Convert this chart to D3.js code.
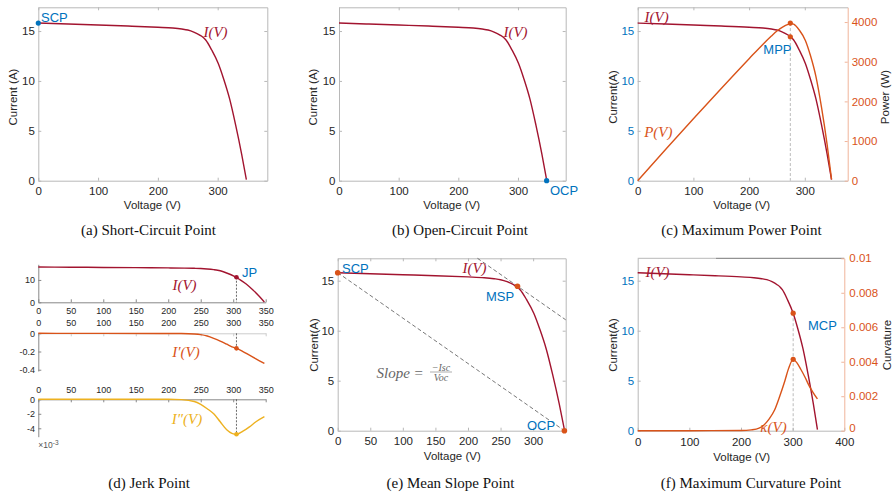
<!DOCTYPE html>
<html>
<head>
<meta charset="utf-8">
<script src="https://cdn.jsdelivr.net/npm/d3@7"></script>
<style>
  body { margin: 0; background: #fff; }
  svg { display: block; font-family: "Liberation Sans", Arial, sans-serif; }
</style>
</head>
<body>
<script>
// I-V curve
const voltage = [0, 50, 100, 150, 200, 225, 240, 250, 260, 270, 276, 280, 290, 301, 310, 320, 330, 340, 348];
const current = [15.8, 15.7, 15.6, 15.5, 15.38, 15.3, 15.2, 15.1, 14.9, 14.6, 14.35, 14.1, 13.1, 11.75, 10.2, 8.2, 5.6, 2.7, 0.1];
const power = [0, 785, 1560, 2325, 3076, 3443, 3648, 3775, 3874, 3942, 3961, 3948, 3799, 3537, 3162, 2624, 1848, 918, 35];

// derivatives (jerk panel)
const derivVoltage = [0, 100, 200, 220, 240, 250, 260, 270, 280, 290, 298, 305, 315, 325, 335, 348];
const dCurrent = [0, -0.001, -0.002, -0.003, -0.008, -0.015, -0.03, -0.055, -0.085, -0.12, -0.148, -0.165, -0.2, -0.24, -0.28, -0.33];
const d2Current = [0, 0, 0, -0.00005, -0.0003, -0.0007, -0.0013, -0.002, -0.0031, -0.0042, -0.0047, -0.00483, -0.0044, -0.0038, -0.0031, -0.0024];

// curvature
const curvVoltage = [0, 100, 200, 220, 235, 245, 255, 265, 275, 285, 292, 301, 308, 316, 324, 332, 340, 348];
const curvature = [0, 0, 0.00001, 0.00005, 0.00015, 0.00035, 0.0007, 0.0012, 0.002, 0.0029, 0.0036, 0.00414, 0.00395, 0.00355, 0.0031, 0.0026, 0.0022, 0.00184];

// key points
const scp = [0, 15.8];
const ocp = [348, 0];
const mpp = [274, 14.43, 3975];
const jp = [305, 11.2, -0.165, -0.00483];
const msp = [276, 14.45];
const mcp = [301, 11.75, 0.00414];

// ticks
const currentTicks = [0, 5, 10, 15];
const voltageTicks = [0, 100, 200, 300];
const voltageTicksE = [0, 50, 100, 150, 200, 250, 300];
const voltageTicksF = [0, 100, 200, 300, 400];
const voltageTicksD = [0, 50, 100, 150, 200, 250, 300, 350];
const powerTicks = [0, 1000, 2000, 3000, 4000];
const curvatureTicks = [0, 0.002, 0.004, 0.006, 0.008, 0.01];
const jerkTicks1 = [0, 10];
const jerkTicks2 = [0, -0.2, -0.4];
const jerkTicks3 = [0, -0.002, -0.004];

const captions = ["(a) Short-Circuit Point", "(b) Open-Circuit Point", "(c) Maximum Power Point",
  "(d) Jerk Point", "(e) Mean Slope Point", "(f) Maximum Curvature Point"];

const red = "#A2142F", orange = "#D95319", yellow = "#EDB120", blue = "#0072BD";
const lineGray = "#b8b8b8", dark = "#262626";

const svg = d3.select("body").append("svg").attr("width", 894).attr("height", 496);

function frame(left, right, bottom, top, xDomain, yDomain) {
  return {
    x: d3.scaleLinear(xDomain, [left, right]),
    y: d3.scaleLinear(yDomain, [bottom, top]),
  };
}

function drawAxis(scale, orient, at, ticks, opts = {}) {
  const {
    labels = true, fmt = (d) => String(d), color = dark, stroke = lineGray,
    size = 11.5, pad = 4, tick = 3,
  } = opts;
  const make = { bottom: d3.axisBottom, top: d3.axisTop, left: d3.axisLeft, right: d3.axisRight }[orient];
  const gen = make(scale)
    .tickValues(ticks)
    .tickSizeInner(-tick)
    .tickSizeOuter(0)
    .tickPadding(pad)
    .tickFormat(labels ? fmt : () => "");
  const horiz = orient === "bottom" || orient === "top";
  const g = svg.append("g")
    .attr("transform", horiz ? `translate(0,${at})` : `translate(${at},0)`)
    .call(gen)
    .attr("font-family", null)
    .attr("font-size", size);
  g.select(".domain").attr("stroke", stroke);
  g.selectAll(".tick line").attr("stroke", stroke);
  g.selectAll(".tick text").attr("fill", color);
  return g;
}

function curve(x, y, xs, ys, color, width = 1.4) {
  svg.append("path")
    .datum(d3.range(xs.length))
    .attr("fill", "none")
    .attr("stroke", color)
    .attr("stroke-width", width)
    .attr("d", d3.line().x((i) => x(xs[i])).y((i) => y(ys[i])).curve(d3.curveMonotoneX));
}

function dot(x, y, vx, vy, color, r = 2.6) {
  svg.append("circle").attr("cx", x(vx)).attr("cy", y(vy)).attr("r", r).attr("fill", color);
}

function dashed(x1, y1, x2, y2, color = "#999", dash = "3,2", width = 0.8) {
  svg.append("line")
    .attr("x1", x1).attr("y1", y1).attr("x2", x2).attr("y2", y2)
    .attr("stroke", color).attr("stroke-width", width).attr("stroke-dasharray", dash);
}

function label(x, y, txt, color, { size = 13, anchor = "start", math = false } = {}) {
  return svg.append("text")
    .attr("x", x).attr("y", y)
    .attr("fill", color)
    .attr("font-size", size)
    .attr("text-anchor", anchor)
    .attr("dominant-baseline", "central")
    .attr("font-family", math ? "'Liberation Serif', 'DejaVu Serif', serif" : null)
    .attr("font-style", math ? "italic" : null)
    .text(txt);
}

function yLabel(x, y, txt) {
  svg.append("text")
    .attr("transform", `translate(${x},${y}) rotate(-90)`)
    .attr("text-anchor", "middle")
    .attr("dominant-baseline", "central")
    .attr("font-size", 11.5)
    .attr("fill", dark)
    .text(txt);
}

function caption(x, y, txt) {
  svg.append("text")
    .attr("x", x).attr("y", y)
    .attr("text-anchor", "middle")
    .attr("dominant-baseline", "central")
    .attr("font-family", "'Liberation Serif', serif")
    .attr("font-size", 15)
    .attr("fill", "#111")
    .text(txt);
}

// (a) short-circuit point
const pa = frame(38.3, 267.3, 180.7, 7.3, [0, 383], [0, 17.38]);
drawAxis(pa.x, "top", 7.3, voltageTicks, { labels: false });
drawAxis(pa.y, "right", 267.3, currentTicks, { labels: false });
drawAxis(pa.x, "bottom", 180.7, voltageTicks, { pad: 6 });
drawAxis(pa.y, "left", 38.3, currentTicks, { pad: 3.5 });
curve(pa.x, pa.y, voltage, current, red);
dot(pa.x, pa.y, scp[0], scp[1], blue);
label(41, 17, "SCP", blue);
label(215.5, 32.3, "I(V)", red, { size: 15, anchor: "middle", math: true });
yLabel(13.3, 97, "Current (A)");
label(152.3, 205, "Voltage (V)", dark, { size: 11.5, anchor: "middle" });

// (b) open-circuit point
const pb = frame(339, 565.7, 180.7, 7.3, [0, 380], [0, 17.38]);
drawAxis(pb.x, "top", 7.3, voltageTicks, { labels: false });
drawAxis(pb.y, "right", 565.7, currentTicks, { labels: false });
drawAxis(pb.x, "bottom", 180.7, voltageTicks, { pad: 6 });
drawAxis(pb.y, "left", 339, currentTicks, { pad: 3.5 });
curve(pb.x, pb.y, voltage, current, red);
dot(pb.x, pb.y, ocp[0], ocp[1], blue);
label(550, 190.7, "OCP", blue);
label(515.5, 32.3, "I(V)", red, { size: 15, anchor: "middle", math: true });
yLabel(313.3, 97, "Current (A)");
label(451.7, 205, "Voltage (V)", dark, { size: 11.5, anchor: "middle" });

// (c) maximum power point
const pc = frame(637.7, 847.7, 180.7, 7.3, [0, 377], [0, 17.38]);
const pcP = d3.scaleLinear([0, 4372], [180.7, 7.3]);
drawAxis(pc.x, "top", 7.3, voltageTicks, { labels: false });
drawAxis(pc.x, "bottom", 180.7, voltageTicks, { pad: 6 });
drawAxis(pc.y, "left", 637.7, currentTicks, { pad: 3.5, color: blue });
drawAxis(pcP, "right", 847.7, powerTicks, { pad: 4, color: orange, stroke: "#f0b49a" });
dashed(pc.x(mpp[0]), pcP(mpp[2]), pc.x(mpp[0]), 180.7, "#aaa");
curve(pc.x, pc.y, voltage, current, red);
curve(pc.x, pcP, voltage, power, orange);
dot(pc.x, pc.y, mpp[0], mpp[1], orange);
dot(pc.x, pcP, mpp[0], mpp[2], orange);
label(763.3, 49.3, "MPP", blue);
label(656.7, 16.7, "I(V)", red, { size: 15, anchor: "middle", math: true });
label(658.3, 131.7, "P(V)", orange, { size: 15, anchor: "middle", math: true });
yLabel(613.3, 97, "Current(A)");
yLabel(885, 97, "Power (W)");
label(741.7, 205, "Voltage (V)", dark, { size: 11.5, anchor: "middle" });

// (d) jerk point: three stacked axes
const dI = frame(38.3, 265.7, 302.3, 264.3, [0, 350], [0, 17]);
const dD1 = frame(38.3, 265.7, 371, 333.3, [0, 350], [-0.414, 0]);
const dD2 = frame(38.3, 265.7, 436.7, 399.3, [0, 350], [-0.00516, 0]);
drawAxis(dI.x, "bottom", 302.3, voltageTicksD, { size: 9, pad: 5, stroke: "#888" });
drawAxis(dI.y, "left", 38.3, jerkTicks1, { size: 9, pad: 3.3, stroke: "#888" });
drawAxis(dD1.x, "top", 333.3, voltageTicksD, { size: 9, pad: 7.4, stroke: "#ccc" });
drawAxis(dD1.y, "left", 38.3, jerkTicks2, { size: 9, pad: 3.3, stroke: "#888" });
drawAxis(dD2.x, "top", 399.3, voltageTicksD, { size: 9, pad: 6.8, stroke: "#888" });
drawAxis(dD2.y, "left", 38.3, jerkTicks3, { size: 9, pad: 3.3, stroke: "#888",
  fmt: (d) => String(Math.round(d * 1000)) });
svg.append("text")
  .attr("x", 38.3).attr("y", 448)
  .attr("font-size", 8.5).attr("fill", "#555")
  .text("\u00d710")
  .append("tspan").attr("dy", -3).attr("font-size", 6.5).text("-3");
dashed(dI.x(jp[0]), dI.y(jp[1]), dI.x(jp[0]), 302.3, "#444", "2,1.5");
dashed(dD1.x(jp[0]), 333.3, dD1.x(jp[0]), dD1.y(jp[2]), "#444", "2,1.5");
dashed(dD2.x(jp[0]), 399.3, dD2.x(jp[0]), dD2.y(jp[3]), "#444", "2,1.5");
curve(dI.x, dI.y, voltage, current, red);
curve(dD1.x, dD1.y, derivVoltage, dCurrent, orange);
curve(dD2.x, dD2.y, derivVoltage, d2Current, yellow);
dot(dI.x, dI.y, jp[0], jp[1], red, 2.3);
dot(dD1.x, dD1.y, jp[0], jp[2], orange, 2.3);
dot(dD2.x, dD2.y, jp[0], jp[3], yellow, 2.3);
label(242, 272, "JP", blue);
label(184.5, 285, "I(V)", red, { size: 15, anchor: "middle", math: true });
label(186, 352, "I\u2032(V)", orange, { size: 15, anchor: "middle", math: true });
label(187, 419, "I\u2033(V)", yellow, { size: 15, anchor: "middle", math: true });

// (e) mean slope point
const pe = frame(337.7, 565.7, 430.7, 258.3, [0, 350], [0, 17.24]);
drawAxis(pe.x, "top", 258.3, voltageTicksE, { labels: false });
drawAxis(pe.y, "right", 565.7, currentTicks, { labels: false });
drawAxis(pe.x, "bottom", 430.7, voltageTicksE, { pad: 6 });
drawAxis(pe.y, "left", 337.7, currentTicks, { pad: 3.5 });
const meanSlope = -scp[1] / ocp[0];
dashed(pe.x(scp[0]), pe.y(scp[1]), pe.x(ocp[0]), pe.y(ocp[1]), "#555", "4,2.5");
const tanStart = msp[0] + (17.24 - msp[1]) / meanSlope;
dashed(pe.x(tanStart), pe.y(17.24), pe.x(350), pe.y(msp[1] + meanSlope * (350 - msp[0])), "#555", "4,2.5");
curve(pe.x, pe.y, voltage, current, red);
dot(pe.x, pe.y, scp[0], scp[1], orange, 2.8);
dot(pe.x, pe.y, msp[0], msp[1], orange, 2.8);
dot(pe.x, pe.y, ocp[0], ocp[1], orange, 2.8);
label(342, 268, "SCP", blue);
label(486, 296.7, "MSP", blue);
label(527, 425, "OCP", blue);
label(474.5, 268, "I(V)", red, { size: 15, anchor: "middle", math: true });
label(376.5, 373, "Slope =", "#666", { size: 15, math: true });
label(441, 367, "\u2212Isc", "#666", { size: 10, anchor: "middle", math: true });
svg.append("line").attr("x1", 430).attr("x2", 452).attr("y1", 372).attr("y2", 372)
  .attr("stroke", "#777").attr("stroke-width", 0.6);
label(441, 377.8, "Voc", "#666", { size: 10, anchor: "middle", math: true });
yLabel(314.3, 345, "Current(A)");
label(452.3, 455.7, "Voltage (V)", dark, { size: 11.5, anchor: "middle" });

// (f) maximum curvature point
const pf = frame(637.7, 844.3, 430.7, 258.3, [0, 400], [0, 17.24]);
const pfK = d3.scaleLinear([0, 0.01], [430.7, 258.3]);
svg.append("line").attr("x1", 637.7).attr("x2", 716).attr("y1", 258.3).attr("y2", 258.3).attr("stroke", lineGray);
svg.append("line").attr("x1", 716).attr("x2", 844.3).attr("y1", 258.3).attr("y2", 258.3).attr("stroke", "#777");
drawAxis(pf.x, "bottom", 430.7, voltageTicksF, { pad: 7 });
drawAxis(pf.y, "left", 637.7, currentTicks, { pad: 3.5, color: blue });
drawAxis(pfK, "right", 844.3, curvatureTicks, { pad: 5, color: orange, stroke: "#f0b49a" })
  .selectAll(".tick text").attr("dy", (d) => (d === 0 ? "0.1em" : "0.32em"));
dashed(pf.x(mcp[0]), pf.y(mcp[1]), pf.x(mcp[0]), 430.7, "#aaa");
curve(pf.x, pf.y, voltage, current, red);
curve(pf.x, pfK, curvVoltage, curvature, orange);
dot(pf.x, pf.y, mcp[0], mcp[1], orange);
dot(pf.x, pfK, mcp[0], mcp[2], orange);
label(808, 325, "MCP", blue);
label(657.5, 272, "I(V)", red, { size: 15, anchor: "middle", math: true });
label(773.5, 426.7, "\u03ba(V)", orange, { size: 15, anchor: "middle", math: true });
yLabel(613.3, 345, "Current(A)");
yLabel(886.7, 345, "Curvature");
label(741.7, 457, "Voltage (V)", dark, { size: 11.5, anchor: "middle" });

// captions
const capPos = [[148.5, 230], [460, 230], [741.5, 230], [149, 483.3], [450.5, 483.3], [751, 483.3]];
captions.forEach((c, i) => caption(capPos[i][0], capPos[i][1], c));
</script>
</body>
</html>
